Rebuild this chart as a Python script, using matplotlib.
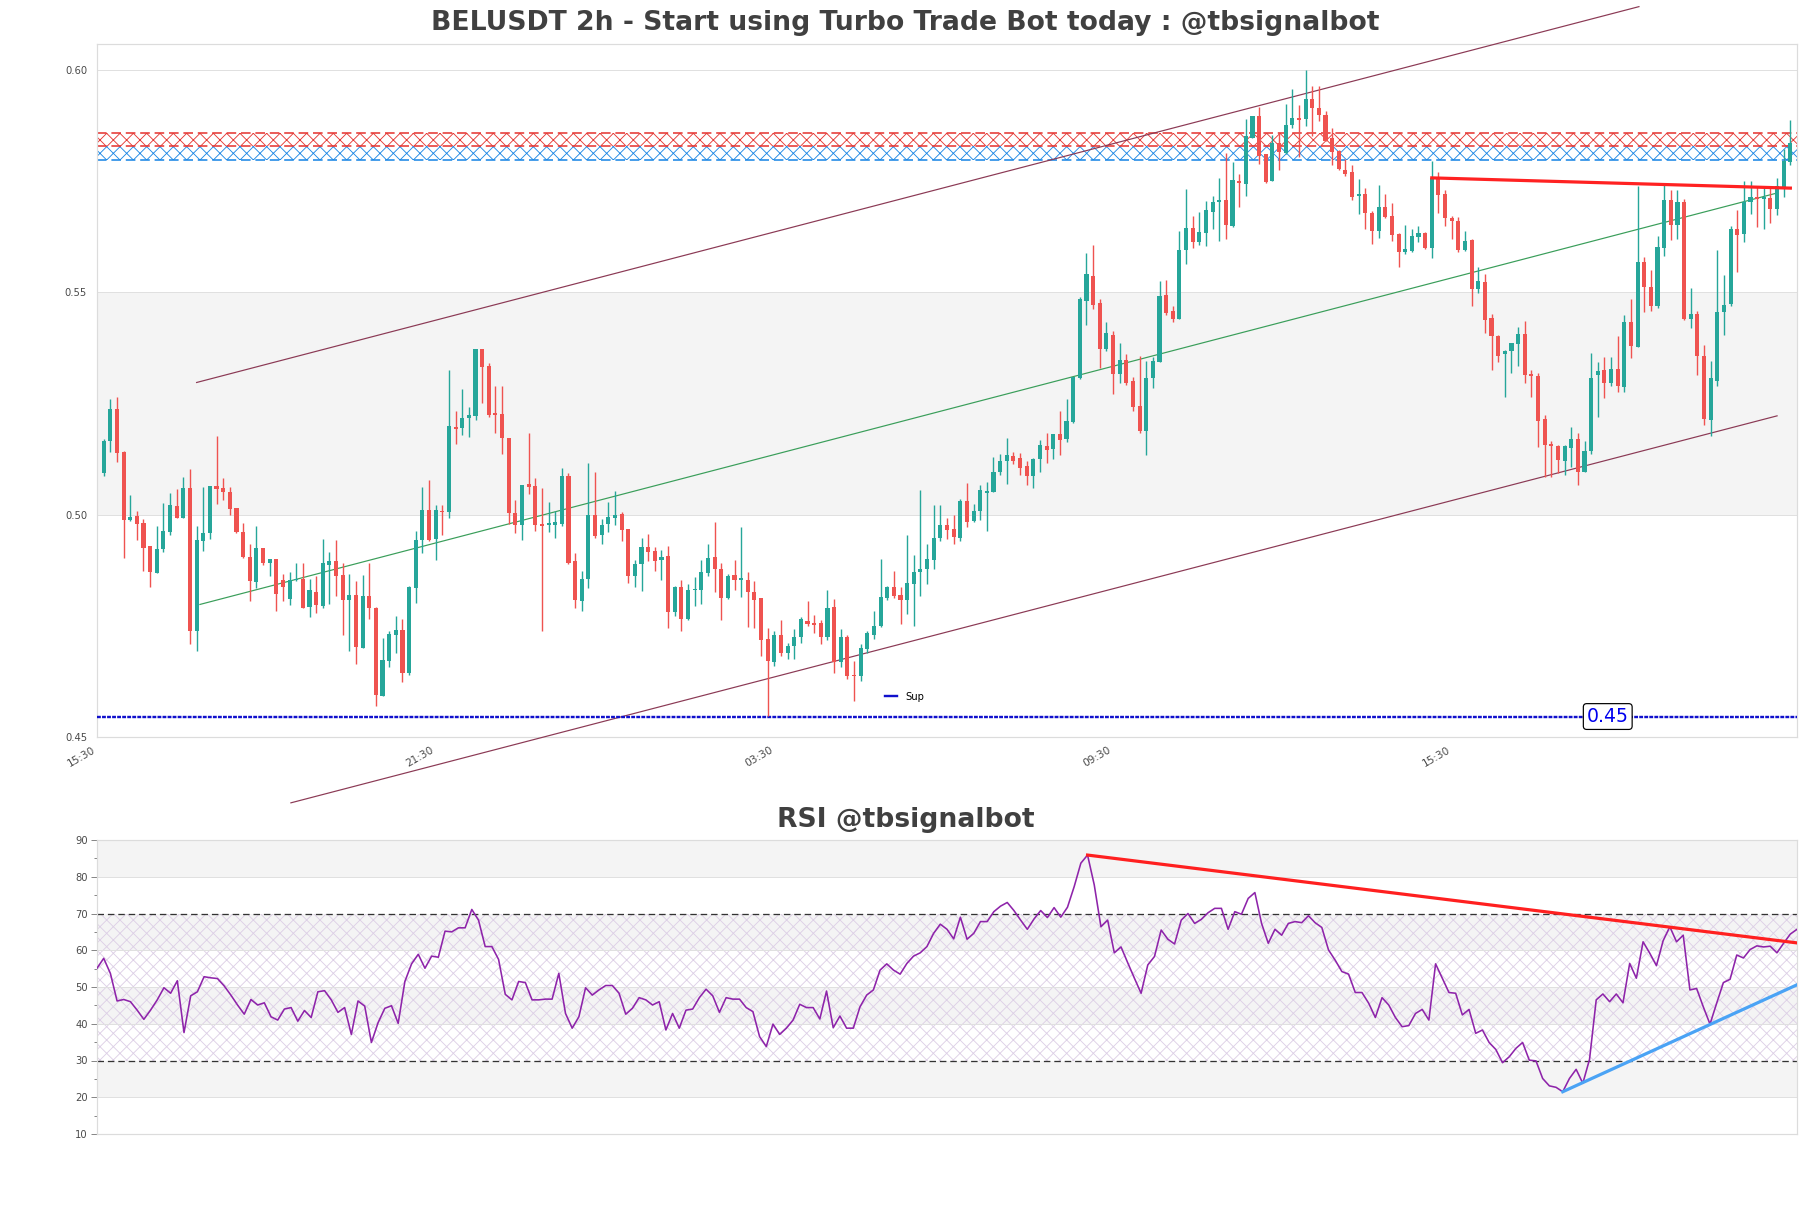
import numpy as np
import matplotlib
matplotlib.use("Agg")
import matplotlib.pyplot as plt
from matplotlib.ticker import MultipleLocator
from matplotlib.lines import Line2D

DPI = 80
PX = 72.0 / DPI
plt.rcParams["hatch.linewidth"] = 0.8

# ---------------- data ----------------
opens = [0.5093,0.5165,0.5237,0.5140,0.4988,0.4997,0.4981,0.4929,0.4869,0.4923,
0.4961,0.5019,0.4993,0.5059,0.4738,0.4941,0.4959,0.5065,0.5059,0.5051,
0.5015,0.4962,0.4905,0.4849,0.4926,0.4892,0.4900,0.4853,0.4810,0.4853,
0.4856,0.4792,0.4827,0.4794,0.4887,0.4895,0.4864,0.4808,0.4820,0.4700,
0.4818,0.4789,0.4592,0.4671,0.4730,0.4741,0.4643,0.4835,0.4943,0.5010,
0.4945,0.5008,0.5005,0.5198,0.5195,0.5218,0.5221,0.5373,0.5334,0.5228,
0.5226,0.5172,0.5003,0.4977,0.5069,0.5065,0.4978,0.4977,0.4977,0.4979,
0.5087,0.4895,0.4805,0.4856,0.4998,0.4954,0.4979,0.4993,0.5002,0.4967,
0.4863,0.4890,0.4928,0.4918,0.4897,0.4907,0.4781,0.4838,0.4766,0.4830,
0.4830,0.4868,0.4904,0.4877,0.4813,0.4864,0.4854,0.4853,0.4827,0.4813,
0.4720,0.4669,0.4730,0.4688,0.4705,0.4725,0.4760,0.4756,0.4756,0.4725,
0.4792,0.4668,0.4725,0.4640,0.4638,0.4697,0.4730,0.4750,0.4812,0.4837,
0.4820,0.4807,0.4843,0.4871,0.4877,0.4897,0.4947,0.4976,0.4967,0.4947,
0.5031,0.4985,0.5008,0.5049,0.5051,0.5096,0.5121,0.5131,0.5127,0.5110,
0.5087,0.5126,0.5154,0.5147,0.5182,0.5170,0.5209,0.5307,0.5480,0.5537,
0.5475,0.5373,0.5404,0.5316,0.5348,0.5300,0.5245,0.5187,0.5306,0.5343,
0.5494,0.5458,0.5439,0.5594,0.5645,0.5612,0.5633,0.5681,0.5703,0.5708,
0.5648,0.5751,0.5743,0.5847,0.5897,0.5810,0.5749,0.5836,0.5813,0.5877,
0.5892,0.5890,0.5934,0.5914,0.5898,0.5846,0.5818,0.5775,0.5770,0.5717,
0.5720,0.5679,0.5638,0.5692,0.5672,0.5631,0.5590,0.5592,0.5624,0.5633,
0.5600,0.5756,0.5720,0.5666,0.5660,0.5595,0.5617,0.5507,0.5523,0.5442,
0.5401,0.5362,0.5367,0.5384,0.5406,0.5316,0.5311,0.5216,0.5159,0.5154,
0.5121,0.5149,0.5170,0.5096,0.5144,0.5314,0.5324,0.5295,0.5327,0.5286,
0.5432,0.5376,0.5568,0.5512,0.5468,0.5599,0.5707,0.5650,0.5702,0.5439,
0.5451,0.5357,0.5213,0.5301,0.5456,0.5473,0.5643,0.5631,0.5702,0.5715,
0.5710,0.5712,0.5686,0.5734,0.5792]

highs = [0.5170,0.5260,0.5264,0.5142,0.5043,0.5007,0.4990,0.4929,0.4974,0.5026,
0.5049,0.5057,0.5085,0.5103,0.4974,0.5062,0.5065,0.5177,0.5082,0.5062,
0.5015,0.4981,0.4933,0.4974,0.4926,0.4900,0.4900,0.4866,0.4871,0.4892,
0.4892,0.4856,0.4861,0.4945,0.4915,0.4943,0.4892,0.4866,0.4851,0.4864,
0.4892,0.4792,0.4722,0.4738,0.4772,0.4766,0.4840,0.4964,0.5062,0.5077,
0.5021,0.5021,0.5324,0.5234,0.5283,0.5242,0.5373,0.5373,0.5340,0.5288,
0.5288,0.5172,0.5033,0.5067,0.5183,0.5082,0.5059,0.5028,0.5008,0.5105,
0.5093,0.4913,0.4874,0.5116,0.5096,0.4990,0.5028,0.5053,0.5005,0.4967,
0.4897,0.4947,0.4956,0.4928,0.4920,0.4930,0.4840,0.4854,0.4843,0.4859,
0.4897,0.4935,0.4983,0.4892,0.4866,0.4899,0.4972,0.4871,0.4851,0.4813,
0.4745,0.4738,0.4763,0.4712,0.4743,0.4769,0.4805,0.4774,0.4763,0.4830,
0.4810,0.4743,0.4729,0.4671,0.4709,0.4738,0.4784,0.4900,0.4840,0.4873,
0.4838,0.4954,0.4910,0.5055,0.4933,0.5021,0.5021,0.4992,0.4998,0.5036,
0.5070,0.5023,0.5067,0.5074,0.5129,0.5136,0.5172,0.5141,0.5139,0.5120,
0.5127,0.5168,0.5183,0.5182,0.5234,0.5260,0.5309,0.5489,0.5588,0.5607,
0.5484,0.5432,0.5412,0.5386,0.5360,0.5309,0.5357,0.5345,0.5355,0.5525,
0.5527,0.5468,0.5638,0.5733,0.5672,0.5681,0.5705,0.5717,0.5756,0.5813,
0.5792,0.5766,0.5890,0.5897,0.5916,0.5810,0.5854,0.5859,0.5923,0.5957,
0.5921,0.6000,0.5964,0.5964,0.5908,0.5869,0.5820,0.5800,0.5785,0.5754,
0.5734,0.5682,0.5741,0.5720,0.5700,0.5633,0.5651,0.5641,0.5648,0.5635,
0.5795,0.5770,0.5730,0.5672,0.5669,0.5638,0.5620,0.5556,0.5542,0.5451,
0.5404,0.5370,0.5386,0.5422,0.5435,0.5326,0.5319,0.5223,0.5165,0.5157,
0.5157,0.5198,0.5183,0.5165,0.5363,0.5342,0.5355,0.5355,0.5401,0.5448,
0.5484,0.5738,0.5579,0.5550,0.5626,0.5746,0.5730,0.5730,0.5710,0.5509,
0.5458,0.5381,0.5345,0.5595,0.5538,0.5648,0.5684,0.5751,0.5751,0.5736,
0.5738,0.5736,0.5756,0.5821,0.5887]

lows = [0.5087,0.5141,0.5118,0.4902,0.4985,0.4943,0.4873,0.4838,0.4869,0.4915,
0.4954,0.4993,0.4993,0.4709,0.4693,0.4918,0.4945,0.5023,0.5033,0.4998,
0.4959,0.4902,0.4805,0.4835,0.4887,0.4861,0.4784,0.4805,0.4797,0.4851,
0.4789,0.4769,0.4779,0.4789,0.4799,0.4818,0.4729,0.4693,0.4664,0.4699,
0.4766,0.4570,0.4592,0.4657,0.4689,0.4624,0.4640,0.4802,0.4913,0.4941,
0.4899,0.4954,0.4993,0.5159,0.5178,0.5175,0.5213,0.5252,0.5219,0.5183,
0.5136,0.4979,0.4959,0.4943,0.5046,0.4964,0.4738,0.4962,0.4947,0.4974,
0.4889,0.4789,0.4784,0.4835,0.4947,0.4933,0.4962,0.4977,0.4940,0.4846,
0.4838,0.4828,0.4895,0.4873,0.4853,0.4746,0.4771,0.4738,0.4763,0.4794,
0.4799,0.4863,0.4827,0.4763,0.4810,0.4830,0.4815,0.4748,0.4745,0.4681,
0.4547,0.4660,0.4681,0.4676,0.4676,0.4712,0.4750,0.4733,0.4709,0.4719,
0.4645,0.4657,0.4630,0.4580,0.4627,0.4688,0.4720,0.4748,0.4808,0.4812,
0.4753,0.4776,0.4750,0.4817,0.4844,0.4877,0.4940,0.4945,0.4935,0.4940,
0.4972,0.4983,0.4987,0.4964,0.5051,0.5090,0.5069,0.5113,0.5090,0.5067,
0.5060,0.5095,0.5116,0.5126,0.5134,0.5163,0.5206,0.5304,0.5427,0.5463,
0.5329,0.5368,0.5271,0.5295,0.5291,0.5234,0.5183,0.5134,0.5285,0.5343,
0.5448,0.5432,0.5439,0.5564,0.5600,0.5607,0.5604,0.5641,0.5614,0.5620,
0.5646,0.5692,0.5717,0.5847,0.5789,0.5746,0.5749,0.5774,0.5811,0.5869,
0.5805,0.5874,0.5851,0.5885,0.5841,0.5787,0.5774,0.5761,0.5708,0.5676,
0.5641,0.5609,0.5622,0.5667,0.5614,0.5556,0.5586,0.5590,0.5612,0.5597,
0.5578,0.5679,0.5648,0.5620,0.5590,0.5592,0.5468,0.5499,0.5408,0.5324,
0.5343,0.5265,0.5319,0.5334,0.5296,0.5265,0.5151,0.5085,0.5085,0.5093,
0.5090,0.5108,0.5067,0.5095,0.5136,0.5219,0.5262,0.5288,0.5275,0.5275,
0.5352,0.5376,0.5455,0.5458,0.5465,0.5581,0.5617,0.5619,0.5437,0.5419,
0.5314,0.5201,0.5177,0.5288,0.5403,0.5470,0.5545,0.5612,0.5676,0.5646,
0.5641,0.5655,0.5674,0.5713,0.5787]

closes = [0.5165,0.5237,0.5139,0.4988,0.4995,0.4979,0.4926,0.4871,0.4923,0.4964,
0.5021,0.4993,0.5059,0.4738,0.4943,0.4959,0.5065,0.5057,0.5050,0.5013,
0.4962,0.4905,0.4851,0.4925,0.4892,0.4900,0.4822,0.4838,0.4853,0.4856,
0.4791,0.4830,0.4796,0.4892,0.4895,0.4863,0.4808,0.4820,0.4702,0.4818,
0.4789,0.4594,0.4674,0.4731,0.4740,0.4645,0.4838,0.4943,0.5010,0.4943,
0.5010,0.5005,0.5199,0.5193,0.5218,0.5223,0.5373,0.5331,0.5223,0.5223,
0.5172,0.5003,0.4977,0.5067,0.5062,0.4977,0.4974,0.4981,0.4983,0.5087,
0.4892,0.4807,0.4856,0.4998,0.4951,0.4977,0.4995,0.4998,0.4966,0.4863,
0.4889,0.4928,0.4915,0.4895,0.4905,0.4781,0.4838,0.4766,0.4830,0.4833,
0.4871,0.4902,0.4877,0.4813,0.4863,0.4854,0.4858,0.4827,0.4808,0.4719,
0.4671,0.4730,0.4689,0.4704,0.4725,0.4765,0.4753,0.4752,0.4724,0.4789,
0.4668,0.4725,0.4637,0.4637,0.4700,0.4733,0.4750,0.4815,0.4837,0.4817,
0.4808,0.4846,0.4871,0.4877,0.4900,0.4947,0.4977,0.4966,0.4949,0.5031,
0.4983,0.5008,0.5055,0.5051,0.5096,0.5120,0.5134,0.5121,0.5105,0.5087,
0.5126,0.5156,0.5146,0.5182,0.5168,0.5211,0.5309,0.5484,0.5540,0.5471,
0.5373,0.5408,0.5316,0.5347,0.5295,0.5242,0.5188,0.5307,0.5345,0.5491,
0.5453,0.5440,0.5594,0.5645,0.5612,0.5635,0.5684,0.5702,0.5707,0.5651,
0.5753,0.5746,0.5851,0.5897,0.5806,0.5748,0.5836,0.5816,0.5877,0.5892,
0.5888,0.5934,0.5914,0.5898,0.5841,0.5815,0.5777,0.5766,0.5715,0.5719,
0.5679,0.5638,0.5692,0.5669,0.5628,0.5590,0.5597,0.5626,0.5633,0.5600,
0.5756,0.5718,0.5667,0.5660,0.5595,0.5615,0.5507,0.5525,0.5437,0.5401,
0.5357,0.5367,0.5386,0.5406,0.5314,0.5311,0.5211,0.5157,0.5154,0.5123,
0.5154,0.5170,0.5095,0.5142,0.5306,0.5322,0.5295,0.5327,0.5290,0.5434,
0.5378,0.5568,0.5512,0.5468,0.5602,0.5707,0.5650,0.5702,0.5439,0.5450,
0.5357,0.5214,0.5306,0.5456,0.5471,0.5643,0.5628,0.5702,0.5715,0.5710,
0.5713,0.5686,0.5738,0.5795,0.5836]

rsi_values = [55.1,57.8,53.7,46.2,46.6,46.0,43.7,41.2,43.7,46.5,
49.8,48.3,51.7,37.6,47.6,48.7,52.8,52.5,52.3,50.3,
47.8,45.1,42.6,46.6,45.1,45.7,41.9,41.0,44.0,44.4,
40.7,43.6,41.7,48.7,49.0,46.5,43.1,44.4,37.1,46.2,
44.8,34.9,40.3,44.2,44.9,40.1,51.5,56.3,58.9,55.1,
58.4,58.1,65.2,65.0,66.1,66.1,71.1,68.2,61.0,61.0,
57.5,48.0,46.5,51.5,51.2,46.5,46.5,46.7,46.7,53.7,
42.8,38.8,41.9,49.8,47.8,49.2,50.4,50.4,48.3,42.6,
44.2,47.1,46.5,45.1,46.0,38.3,42.8,38.8,43.7,44.0,
47.1,49.4,47.6,43.1,47.1,46.7,46.7,44.4,43.3,36.5,
33.8,39.9,37.1,38.8,41.0,45.3,44.4,44.4,41.3,48.9,
38.9,42.1,38.8,38.8,44.6,47.8,49.2,54.6,56.3,54.6,
53.5,56.4,58.4,59.3,61.0,64.6,67.1,
65.7,63.1,69.0,63.0,64.6,67.8,67.8,70.5,72.0,73.0,
70.8,68.2,65.7,68.5,70.8,68.9,71.6,69.0,71.7,77.3,
83.7,85.9,77.8,66.4,68.2,59.3,60.9,56.6,52.4,48.3,
56.0,58.3,65.5,63.0,61.7,68.2,70.0,67.3,68.4,70.2,
71.4,71.4,65.7,70.5,69.8,74.1,75.7,67.3,61.9,65.7,
64.1,67.3,67.8,67.5,69.4,67.5,66.2,60.1,57.3,54.2,
53.5,48.5,48.5,45.6,41.7,47.1,45.1,41.7,39.2,39.5,
42.8,43.9,41.0,56.3,52.4,48.5,48.3,42.4,43.9,37.4,
38.3,34.9,33.0,29.4,
31.0,33.3,34.9,30.1,29.9,25.1,23.1,22.7,21.5,25.1,
27.6,23.8,30.3,46.5,48.1,46.0,48.1,45.7,56.4,52.4,
62.3,59.2,55.8,62.6,66.4,62.3,64.1,49.2,49.6,44.6,
39.9,45.6,51.2,52.1,58.7,57.9,60.2,61.2,60.9,61.1,
59.3,61.9,64.4,65.7]

x_tick_positions = [0, 51, 102, 153, 204]
x_tick_labels = ["15:30", "21:30", "03:30", "09:30", "15:30"]
price_ticks = [0.45, 0.50, 0.55, 0.60]

resistance_zone = [0.5828, 0.5859]
support_zone = [0.5797, 0.5828]
sup_level = 0.4546
sup_label = "0.45"
sup_label_x = 227.5

channel_upper_x = [15.0, 232.2]
channel_upper_y = [0.5297, 0.6142]
channel_lower_x = [29.2, 253.0]
channel_lower_y = [0.4352, 0.5222]
channel_mid_x = [15.5, 253.0]
channel_mid_y = [0.4798, 0.5723]
trend_red_x = [201.0, 255.0]
trend_red_y = [0.5757, 0.5734]

rsi_red_x = [148, 254]
rsi_red_y = [85.9, 62.0]
rsi_blue_x = [219, 254]
rsi_blue_y = [21.5, 50.6]

# ---------------- style ----------------
GREEN = "#26a69a"
RED = "#ef5350"
BAND = "#f4f4f4"
SPINE = "#dcdcdc"
GRID = "#e0e0e0"
TXT = "#404040"
TICK = "#4a4a4a"
SUPC = "#1010cc"

fig = plt.figure(figsize=(1811 / DPI, 1208 / DPI), dpi=DPI)
fig.patch.set_facecolor("white")
ax = fig.add_axes([97 / 1811, 1 - 737 / 1208, 1700 / 1811, (737 - 44) / 1208])
ax2 = fig.add_axes([97 / 1811, 1 - 1134 / 1208, 1700 / 1811, (1134 - 840) / 1208])

# ---- main chart ----
ax.set_xlim(0, 256)
ax.set_ylim(0.45, 0.6058)
ax.axhspan(0.50, 0.55, color=BAND, lw=0, zorder=0)
for yv in price_ticks:
    ax.axhline(yv, color=GRID, lw=1.0 * PX, zorder=0.5)

o = np.array(opens); h = np.array(highs); l = np.array(lows); c = np.array(closes)
xs = np.arange(1, len(o) + 1)
cols = np.where(c >= o, GREEN, RED)
ax.vlines(xs, l, h, colors=cols, linewidth=1.4 * PX, zorder=3)
body_bottom = np.minimum(o, c)
body_h = np.maximum(np.abs(c - o), 0.0003)
ax.bar(xs, body_h, bottom=body_bottom, width=0.62, color=cols, edgecolor="none", zorder=4)

# zones
ax.axhspan(resistance_zone[0], resistance_zone[1], facecolor="none", edgecolor="#e53935",
           hatch="xx", lw=0, zorder=2)
ax.axhspan(support_zone[0], support_zone[1], facecolor="none", edgecolor="#1e88e5",
           hatch="xx", lw=0, zorder=2)
ax.axhline(resistance_zone[1], color="#e53935", ls=(0, (6, 3)), lw=1.6 * PX, zorder=2.5)
ax.axhline(resistance_zone[0], color="#e53935", ls=(0, (6, 3)), lw=1.6 * PX, zorder=2.5)
ax.axhline(support_zone[0], color="#1e88e5", ls=(0, (6, 3)), lw=1.6 * PX, zorder=2.5)

# channel lines
ax.plot(channel_upper_x, channel_upper_y, color="#8b3a55", lw=1.2 * PX, clip_on=False, zorder=2.6)
ax.plot(channel_lower_x, channel_lower_y, color="#8b3a55", lw=1.2 * PX, clip_on=False, zorder=2.6)
ax.plot(channel_mid_x, channel_mid_y, color="#3a9e5a", lw=1.2 * PX, zorder=2.6)
ax.plot(trend_red_x, trend_red_y, color="#ff2222", lw=3.2 * PX, zorder=5)

# support line
ax.axhline(sup_level, color=SUPC, ls=(0, (1.6, 0.5)), lw=2.4 * PX, zorder=2.7)
ax.text(sup_label_x, sup_level, sup_label, color="#0000ee", fontsize=17, ha="center", va="center",
        zorder=6, bbox=dict(boxstyle="round,pad=0.18", fc="white", ec="black", lw=1.2 * PX))
proxy = Line2D([], [], color=SUPC, lw=2.4 * PX, ls="-")
ax.legend([proxy], ["Sup"], loc="center", bbox_to_anchor=(0.475, 0.058), frameon=False,
          fontsize=9, handlelength=1.2, handletextpad=0.8)

ax.set_xticks(x_tick_positions)
ax.set_xticklabels(x_tick_labels, rotation=30, ha="right", fontsize=9.5, color=TICK)
ax.set_yticks(price_ticks)
ax.set_yticklabels(["%.2f" % v for v in price_ticks], fontsize=9, color=TICK)
ax.tick_params(axis="both", length=0)
ax.tick_params(axis="y", pad=10 * PX)
ax.tick_params(axis="x", pad=8 * PX)
for s in ax.spines.values():
    s.set_color(SPINE)
    s.set_linewidth(1.2 * PX)

# ---- RSI chart ----
ax2.set_xlim(0, len(rsi_values) - 1)
ax2.set_ylim(10, 90)
for lo, hi in [(80, 90), (60, 70), (40, 50), (20, 30)]:
    ax2.axhspan(lo, hi, color=BAND, lw=0, zorder=0)
ax2.axhspan(30, 70, facecolor="none", edgecolor="#ddd0e6", hatch="xx", lw=0, zorder=0.6)
for yv in [20, 40, 50, 60, 80]:
    ax2.axhline(yv, color=GRID, lw=1.0 * PX, zorder=0.7)
ax2.axhline(70, color="#333333", ls=(0, (5, 3)), lw=1.3 * PX, zorder=1)
ax2.axhline(30, color="#333333", ls=(0, (5, 3)), lw=1.3 * PX, zorder=1)
ax2.plot(np.arange(len(rsi_values)), rsi_values, color="#8e24aa", lw=1.6 * PX, zorder=3)
ax2.plot(rsi_red_x, rsi_red_y, color="#ff2020", lw=3.2 * PX, zorder=4)
ax2.plot(rsi_blue_x, rsi_blue_y, color="#4aa3f5", lw=3.2 * PX, zorder=4)

ax2.set_xticks([])
ax2.yaxis.set_major_locator(MultipleLocator(10))
ax2.yaxis.set_minor_locator(MultipleLocator(5))
ax2.tick_params(axis="y", which="major", length=6 * PX, width=1 * PX, color="#888888",
                labelsize=9, labelcolor=TICK, pad=3 * PX)
ax2.tick_params(axis="y", which="minor", length=3 * PX, width=1 * PX, color="#888888")
for s in ax2.spines.values():
    s.set_color(SPINE)
    s.set_linewidth(1.2 * PX)

# titles
fig.text(0.5, 1 - 23 / 1208, "BELUSDT 2h - Start using Turbo Trade Bot today : @tbsignalbot",
         ha="center", va="center", fontsize=24, fontweight="bold", color=TXT)
fig.text(0.5, 1 - 820 / 1208, "RSI @tbsignalbot", ha="center", va="center",
         fontsize=24, fontweight="bold", color=TXT)

fig.savefig("out.png", dpi=DPI, facecolor="white")
